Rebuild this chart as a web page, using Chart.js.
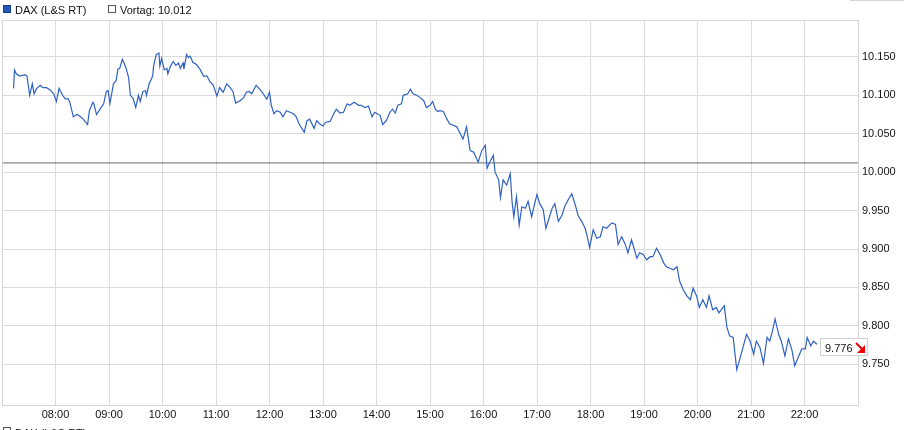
<!DOCTYPE html>
<html>
<head>
<meta charset="utf-8">
<script src="https://cdn.jsdelivr.net/npm/chart.js@4/dist/chart.umd.min.js"></script>
<style>
  html, body { margin: 0; padding: 0; background: #fff; }
</style>
</head>
<body>
<canvas id="chart" width="904" height="430"></canvas>
<script>
const seriesName = "DAX (L&S RT)";
const prevClose = 10012;

// intraday time, minutes after midnight
const timeMin = [
  433,434,436,440,446,448,451,454,456,459,463,466,470,474,478,481,484,488,491,494,496,500,504,507,511,516,518,522,523,526,
  530,534,537,539,541,545,548,550,552,555,559,562,564,567,570,573,575,578,581,582,585,589,590,593,596,597,599,602,605,606,
  609,612,615,618,620,623,624,627,629,631,634,638,642,646,650,653,657,661,664,668,672,676,679,682,687,691,694,697,700,705,
  709,713,717,720,722,725,728,732,735,739,743,747,750,753,
  759,762,765,770,773,776,780,783,788,792,795,799,803,807,810,815,820,823,827,831,835,838,844,847,851,855,858,861,864,868,
  870,875,878,881,885,889,893,896,900,903,906,909,911,915,919,922,
  930,937,941,945,949,954,958,962,964,967,971,973,977,979,982,986,990,992,994,997,1000,1003,1007,1010,1014,1018,1020,1023,1027,1030,
  1033,1037,1040,1044,1048,1051,1055,1059,1063,1066,1070,1074,1076,1079,1083,1087,1091,
  1094,1098,1104,1108,1111,1115,1119,1122,1126,1132,1135,1139,1143,1147,1150,1154,1158,1162,1165,1169,1173,1177,1180,1184,1188,
  1192,1195,1199,1202,1206,1210,1213,1217,1221,1224,1230,1233,1236,1240,1244,1248,1251,1255,1259,1263,1266,1270,1274,1278,1281,
  1284,1287,1291,1294,1298,1302,1306,1309,1313,1317,1321,1323,1327,1330,1334
];

// index points
const values = [
  10109,10133,10128,10125,10127,10125,10100,10115,10102,10109,10113,10110,10110,10107,10102,10092,10109,10100,10095,10096,10091,10072,10075,10073,10069,10062,10080,10091,10089,10075,
  10082,10089,10105,10106,10089,10115,10119,10134,10135,10147,10136,10123,10100,10096,10084,10100,10092,10105,10106,10100,10115,10125,10138,10153,10155,10138,10148,10133,10135,10128,
  10138,10144,10139,10142,10135,10142,10134,10153,10149,10151,10143,10140,10134,10125,10125,10118,10113,10099,10110,10104,10115,10110,10105,10090,10093,10097,10104,10105,10102,10113,
  10108,10102,10095,10104,10087,10076,10080,10078,10072,10080,10078,10076,10072,10063,
  10052,10067,10069,10057,10067,10063,10060,10065,10066,10076,10082,10077,10078,10089,10087,10091,10087,10087,10084,10086,10072,10078,10074,10062,10067,10078,10082,10077,10087,10089,
  10100,10102,10108,10102,10100,10097,10093,10084,10087,10092,10082,10079,10080,10079,10069,10063,
  10059,10043,10059,10028,10026,10013,10028,10035,10005,10013,10022,10000,9990,9967,9990,9983,9998,9962,9942,9968,9931,9955,9953,9962,9942,9962,9971,9959,9951,9927,
  9938,9953,9959,9936,9944,9955,9964,9972,9957,9944,9936,9927,9918,9902,9925,9914,9916,
  9929,9927,9934,9932,9906,9916,9906,9895,9912,9888,9895,9893,9886,9890,9890,9901,9893,9882,9877,9875,9873,9877,9858,9847,9839,
  9834,9849,9839,9824,9834,9824,9839,9821,9824,9817,9826,9798,9787,9785,9743,9759,9772,9789,9780,9763,9780,9772,9751,9785,9780,
  9793,9809,9789,9780,9761,9783,9768,9748,9759,9770,9770,9785,9774,9780,9776
];

const hourTicks = [480,540,600,660,720,780,840,900,960,1020,1080,1140,1200,1260,1320];
const priceTicks = [9750,9800,9850,9900,9950,10000,10050,10100,10150];
const xMin = 420, xMax = 1380;
const yMin = 9697, yMax = 10198;

const font = '"Liberation Sans", Arial, sans-serif';

function fmtNum(v) {
  const s = String(Math.round(v));
  return s.slice(0, -3) + "." + s.slice(-3);
}

function fmtTime(m) {
  const h = Math.floor(m / 60);
  return (h < 10 ? "0" : "") + h + ":00";
}

// frame, legend and last value box
const decor = {
  id: "decor",
  afterDraw(chart) {
    const ctx = chart.ctx;
    const a = chart.chartArea;
    ctx.save();

    ctx.strokeStyle = "#d6d6d6";
    ctx.lineWidth = 1;
    ctx.strokeRect(a.left + 0.5, a.top + 0.5, a.right - a.left, a.bottom - a.top);
    ctx.beginPath();
    ctx.moveTo(850, 0.5);
    ctx.lineTo(904, 0.5);
    ctx.stroke();

    // legend
    ctx.font = "11px " + font;
    ctx.textBaseline = "alphabetic";
    ctx.fillStyle = "#2358b8";
    ctx.fillRect(3, 5, 8, 8);
    ctx.strokeStyle = "#1a3f8a";
    ctx.strokeRect(3.5, 5.5, 7, 7);
    ctx.fillStyle = "#111";
    ctx.fillText(seriesName, 15, 14);
    ctx.fillStyle = "#fff";
    ctx.fillRect(108, 5, 8, 8);
    ctx.strokeStyle = "#555";
    ctx.strokeRect(108.5, 5.5, 7, 7);
    ctx.fillStyle = "#111";
    ctx.fillText("Vortag: " + fmtNum(prevClose), 120, 14);

    // cut off legend at the bottom
    ctx.fillStyle = "#fff";
    ctx.fillRect(3, 427, 8, 8);
    ctx.strokeStyle = "#555";
    ctx.strokeRect(3.5, 427.5, 7, 7);
    ctx.fillStyle = "#111";
    ctx.textBaseline = "alphabetic";
    ctx.fillText(seriesName, 15, 437);

    // last value
    const last = values[values.length - 1];
    const px = chart.scales.x.getPixelForValue(timeMin[timeMin.length - 1]);
    const py = chart.scales.y.getPixelForValue(last);
    const bx = Math.round(px) + 3, by = Math.round(py) - 6;
    ctx.fillStyle = "#fff";
    ctx.fillRect(bx, by, 48, 18);
    ctx.strokeStyle = "#d0d0d0";
    ctx.strokeRect(bx + 0.5, by + 0.5, 47, 17);
    ctx.fillStyle = "#111";
    ctx.font = "11px " + font;
    ctx.fillText(fmtNum(last), bx + 5, by + 13.5);
    ctx.strokeStyle = "#ee0000";
    ctx.lineWidth = 2;
    ctx.beginPath();
    ctx.moveTo(bx + 36, by + 5);
    ctx.lineTo(bx + 42, by + 11);
    ctx.stroke();
    ctx.fillStyle = "#ee0000";
    ctx.beginPath();
    ctx.moveTo(bx + 45, by + 15);
    ctx.lineTo(bx + 45, by + 7);
    ctx.lineTo(bx + 37, by + 15);
    ctx.closePath();
    ctx.fill();

    ctx.restore();
  }
};

const points = timeMin.map((t, i) => ({ x: t, y: values[i] }));

new Chart(document.getElementById("chart"), {
  type: "line",
  data: {
    datasets: [
      {
        label: seriesName,
        data: points,
        borderColor: "#2f62c4",
        borderWidth: 1.2,
        pointRadius: 0,
        tension: 0,
        order: 1
      },
      {
        label: "Vortag",
        data: [{ x: xMin, y: prevClose }, { x: xMax, y: prevClose }],
        borderColor: "#6a6a6a",
        borderWidth: 1,
        pointRadius: 0,
        order: 2
      }
    ]
  },
  options: {
    responsive: false,
    animation: false,
    devicePixelRatio: 1,
    layout: { padding: { top: 20, left: 2, right: 0, bottom: 0 } },
    plugins: {
      legend: { display: false },
      tooltip: { enabled: false }
    },
    scales: {
      x: {
        type: "linear",
        min: xMin,
        max: xMax,
        afterBuildTicks: s => { s.ticks = hourTicks.map(v => ({ value: v })); },
        afterFit: s => { s.height = 25; },
        grid: { color: "#dcdcdc", drawTicks: false },
        border: { display: false },
        ticks: {
          padding: 3,
          maxRotation: 0,
          autoSkip: false,
          color: "#111",
          font: { family: font, size: 11 },
          callback: v => fmtTime(v)
        }
      },
      y: {
        position: "right",
        min: yMin,
        max: yMax,
        afterBuildTicks: s => { s.ticks = priceTicks.map(v => ({ value: v })); },
        afterFit: s => { s.width = 46; },
        grid: { color: "#dcdcdc", drawTicks: false },
        border: { display: false },
        ticks: {
          padding: 4,
          color: "#111",
          font: { family: font, size: 11 },
          callback: v => fmtNum(v)
        }
      }
    }
  },
  plugins: [decor]
});
</script>
</body>
</html>
